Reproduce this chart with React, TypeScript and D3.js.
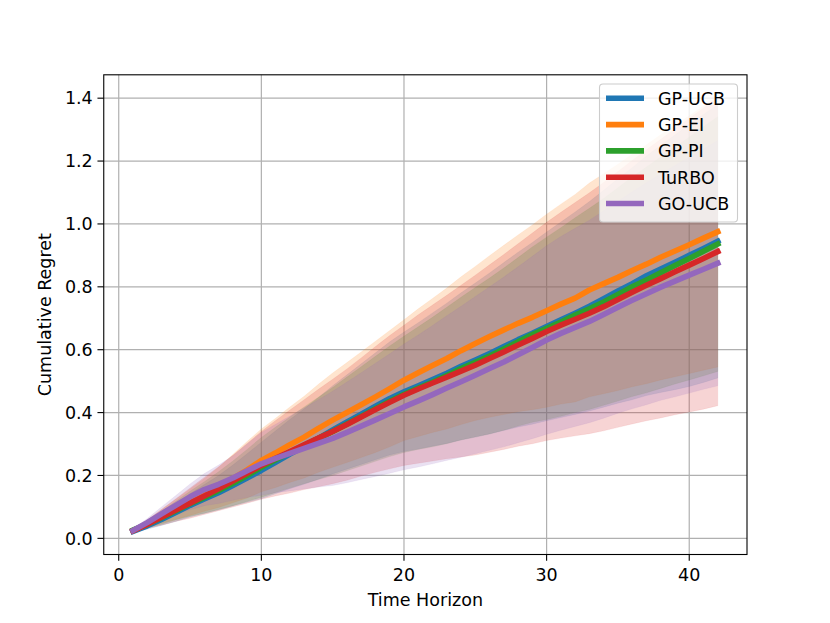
import { useRef, useEffect } from "react";
import * as d3 from "d3";

// Time steps 1..42
const steps: number[] = d3.range(1, 43);

const methods = ["GP-UCB", "GP-EI", "GP-PI", "TuRBO", "GO-UCB"];
const colors = ["#1f77b4", "#ff7f0e", "#2ca02c", "#d62728", "#9467bd"];

// mean cumulative regret per method
const ucbMean = [
  0.022, 0.04, 0.06, 0.082, 0.105, 0.125, 0.145, 0.168, 0.192, 0.216, 0.242, 0.268, 0.292, 0.318,
  0.345, 0.37, 0.395, 0.42, 0.445, 0.466, 0.485, 0.505, 0.525, 0.547, 0.567, 0.588, 0.61, 0.632,
  0.652, 0.674, 0.695, 0.716, 0.738, 0.762, 0.787, 0.81, 0.835, 0.857, 0.878, 0.9, 0.922, 0.945,
];
const eiMean = [
  0.025, 0.045, 0.07, 0.092, 0.115, 0.138, 0.162, 0.19, 0.218, 0.248, 0.272, 0.298, 0.322, 0.35,
  0.376, 0.4, 0.425, 0.45, 0.476, 0.503, 0.527, 0.55, 0.572, 0.597, 0.62, 0.642, 0.663, 0.684,
  0.703, 0.724, 0.745, 0.764, 0.79, 0.81, 0.83, 0.852, 0.872, 0.894, 0.914, 0.934, 0.955, 0.975,
];
const piMean = [
  0.026, 0.045, 0.066, 0.088, 0.11, 0.13, 0.152, 0.175, 0.2, 0.226, 0.25, 0.273, 0.296, 0.318,
  0.34, 0.364, 0.388, 0.412, 0.436, 0.458, 0.478, 0.497, 0.518, 0.54, 0.56, 0.58, 0.602, 0.625,
  0.648, 0.668, 0.688, 0.71, 0.73, 0.752, 0.776, 0.8, 0.822, 0.845, 0.868, 0.89, 0.913, 0.936,
];
const turboMean = [
  0.024, 0.045, 0.067, 0.09, 0.112, 0.135, 0.158, 0.182, 0.207, 0.232, 0.255, 0.276, 0.298, 0.319,
  0.34, 0.362, 0.386, 0.41, 0.433, 0.455, 0.475, 0.494, 0.513, 0.532, 0.551, 0.572, 0.593, 0.615,
  0.636, 0.658, 0.678, 0.697, 0.716, 0.737, 0.76, 0.783, 0.805, 0.826, 0.848, 0.869, 0.89, 0.912,
];
const goMean = [
  0.025, 0.05, 0.078, 0.105, 0.132, 0.155, 0.172, 0.192, 0.215, 0.237, 0.254, 0.27, 0.286, 0.302,
  0.318, 0.337, 0.357, 0.377, 0.397, 0.418, 0.437, 0.457, 0.478, 0.498, 0.519, 0.54, 0.561, 0.584,
  0.607, 0.631, 0.652, 0.671, 0.69, 0.712, 0.735, 0.757, 0.778, 0.799, 0.818, 0.837, 0.856, 0.875,
];

// standard deviation per method
const ucbStd = [
  0.004, 0.011, 0.019, 0.028, 0.037, 0.046, 0.055, 0.065, 0.077, 0.09, 0.1, 0.11, 0.12, 0.13,
  0.14, 0.15, 0.16, 0.17, 0.18, 0.19, 0.201, 0.212, 0.223, 0.234, 0.245, 0.256, 0.267, 0.278,
  0.289, 0.3, 0.311, 0.322, 0.333, 0.345, 0.357, 0.369, 0.381, 0.393, 0.405, 0.417, 0.426, 0.435,
];
const eiStd = [
  0.005, 0.012, 0.022, 0.032, 0.042, 0.052, 0.064, 0.077, 0.09, 0.1, 0.11, 0.12, 0.13, 0.14,
  0.15, 0.159, 0.168, 0.177, 0.185, 0.192, 0.203, 0.213, 0.224, 0.235, 0.245, 0.257, 0.269, 0.281,
  0.294, 0.307, 0.318, 0.33, 0.34, 0.35, 0.36, 0.37, 0.38, 0.39, 0.4, 0.41, 0.42, 0.43,
];
const piStd = [
  0.005, 0.012, 0.021, 0.03, 0.04, 0.05, 0.06, 0.071, 0.083, 0.095, 0.104, 0.113, 0.122, 0.131,
  0.14, 0.149, 0.158, 0.167, 0.176, 0.185, 0.195, 0.206, 0.217, 0.227, 0.238, 0.248, 0.258, 0.268,
  0.279, 0.29, 0.3, 0.31, 0.32, 0.329, 0.339, 0.349, 0.359, 0.368, 0.377, 0.386, 0.396, 0.405,
];
const turboStd = [
  0.005, 0.014, 0.025, 0.036, 0.048, 0.059, 0.07, 0.082, 0.095, 0.108, 0.12, 0.132, 0.143, 0.155,
  0.166, 0.177, 0.188, 0.2, 0.212, 0.223, 0.236, 0.248, 0.26, 0.273, 0.286, 0.298, 0.31, 0.322,
  0.335, 0.347, 0.359, 0.371, 0.383, 0.395, 0.407, 0.419, 0.431, 0.443, 0.455, 0.467, 0.479, 0.49,
];
const goStd = [
  0.005, 0.013, 0.022, 0.031, 0.041, 0.051, 0.061, 0.071, 0.085, 0.1, 0.109, 0.119, 0.129, 0.139,
  0.15, 0.16, 0.17, 0.18, 0.19, 0.2, 0.21, 0.22, 0.23, 0.24, 0.25, 0.26, 0.27, 0.28,
  0.29, 0.3, 0.308, 0.315, 0.322, 0.33, 0.337, 0.345, 0.353, 0.36, 0.368, 0.375, 0.382, 0.39,
];

const means = [ucbMean, eiMean, piMean, turboMean, goMean];
const stds = [ucbStd, eiStd, piStd, turboStd, goStd];

const xTicks = [0, 10, 20, 30, 40];
const yTicks = [0, 0.2, 0.4, 0.6, 0.8, 1.0, 1.2, 1.4];

const App = () => {
  const svgRef = useRef<SVGSVGElement | null>(null);
  const width = 830;
  const height = 623;

  useEffect(() => {
    if (!svgRef.current) return;
    const svg = d3.select(svgRef.current);
    svg.selectAll("*").remove();

    const left = 103.75, right = 747, top = 74.8, bottom = 554.5;
    const font = "DejaVu Sans, sans-serif";

    // matplotlib-like 5% margins
    const lows = means.flatMap((m, i) => m.map((v, j) => v - stds[i][j]));
    const highs = means.flatMap((m, i) => m.map((v, j) => v + stds[i][j]));
    const yMin = d3.min(lows) ?? 0;
    const yMax = d3.max(highs) ?? 1;
    const yPad = (yMax - yMin) * 0.05;
    const xPad = (42 - 1) * 0.05;

    const x = d3.scaleLinear().domain([1 - xPad, 42 + xPad]).range([left, right]);
    const y = d3.scaleLinear().domain([yMin - yPad, yMax + yPad]).range([bottom, top]);

    svg.append("rect").attr("width", width).attr("height", height).attr("fill", "white");

    // grid
    const grid = svg.append("g").attr("stroke", "#b0b0b0").attr("stroke-width", 1.2);
    xTicks.forEach((t) => {
      grid.append("line").attr("x1", x(t)).attr("x2", x(t)).attr("y1", top).attr("y2", bottom);
    });
    yTicks.forEach((t) => {
      grid.append("line").attr("x1", left).attr("x2", right).attr("y1", y(t)).attr("y2", y(t));
    });

    // shaded bands (mean +/- std)
    means.forEach((m, i) => {
      const band = d3
        .area<number>()
        .x((_, j) => x(steps[j]))
        .y0((d, j) => y(d - stds[i][j]))
        .y1((d, j) => y(d + stds[i][j]));
      svg
        .append("path")
        .attr("d", band(m) ?? "")
        .attr("fill", colors[i])
        .attr("fill-opacity", 0.2)
        .attr("stroke", colors[i])
        .attr("stroke-opacity", 0.12)
        .attr("stroke-width", 0.6);
    });

    // mean lines
    const line = d3
      .line<number>()
      .x((_, j) => x(steps[j]))
      .y((d) => y(d));
    means.forEach((m, i) => {
      svg
        .append("path")
        .attr("d", line(m) ?? "")
        .attr("fill", "none")
        .attr("stroke", colors[i])
        .attr("stroke-width", 5.6)
        .attr("stroke-linecap", "square")
        .attr("stroke-linejoin", "round");
    });

    // frame
    svg
      .append("rect")
      .attr("x", left)
      .attr("y", top)
      .attr("width", right - left)
      .attr("height", bottom - top)
      .attr("fill", "none")
      .attr("stroke", "black")
      .attr("stroke-width", 1.1);

    // x ticks
    xTicks.forEach((t) => {
      svg.append("line").attr("x1", x(t)).attr("x2", x(t)).attr("y1", bottom).attr("y2", bottom + 6.3)
        .attr("stroke", "black").attr("stroke-width", 1.1);
      svg.append("text").attr("x", x(t)).attr("y", bottom + 26).attr("text-anchor", "middle")
        .attr("font-family", font).attr("font-size", 17.5).text(String(t));
    });
    // y ticks
    yTicks.forEach((t) => {
      svg.append("line").attr("x1", left - 6.3).attr("x2", left).attr("y1", y(t)).attr("y2", y(t))
        .attr("stroke", "black").attr("stroke-width", 1.1);
      svg.append("text").attr("x", left - 11).attr("y", y(t)).attr("dy", "0.36em")
        .attr("text-anchor", "end").attr("font-family", font).attr("font-size", 17.5)
        .text(t.toFixed(1));
    });

    // axis labels
    svg.append("text").attr("x", (left + right) / 2).attr("y", 606).attr("text-anchor", "middle")
      .attr("font-family", font).attr("font-size", 17.5).text("Time Horizon");
    svg.append("text")
      .attr("transform", `translate(51,${(top + bottom) / 2}) rotate(-90)`)
      .attr("text-anchor", "middle").attr("font-family", font).attr("font-size", 17.5)
      .text("Cumulative Regret");

    // legend
    const lg = svg.append("g");
    lg.append("rect").attr("x", 599.5).attr("y", 84).attr("width", 138).attr("height", 138)
      .attr("rx", 3.5).attr("fill", "white").attr("fill-opacity", 0.8)
      .attr("stroke", "#cccccc").attr("stroke-width", 1.1);
    methods.forEach((name, i) => {
      const cy = 98.3 + i * 26.3;
      lg.append("line").attr("x1", 606).attr("x2", 644).attr("y1", cy).attr("y2", cy)
        .attr("stroke", colors[i]).attr("stroke-width", 5.6);
      lg.append("text").attr("x", 658).attr("y", cy).attr("dy", "0.36em")
        .attr("font-family", font).attr("font-size", 17.5).text(name);
    });
  }, []);

  return (
    <svg
      ref={svgRef}
      width={width}
      height={height}
      style={{ position: "absolute", left: 0, top: 0 }}
    ></svg>
  );
};

export default App;
